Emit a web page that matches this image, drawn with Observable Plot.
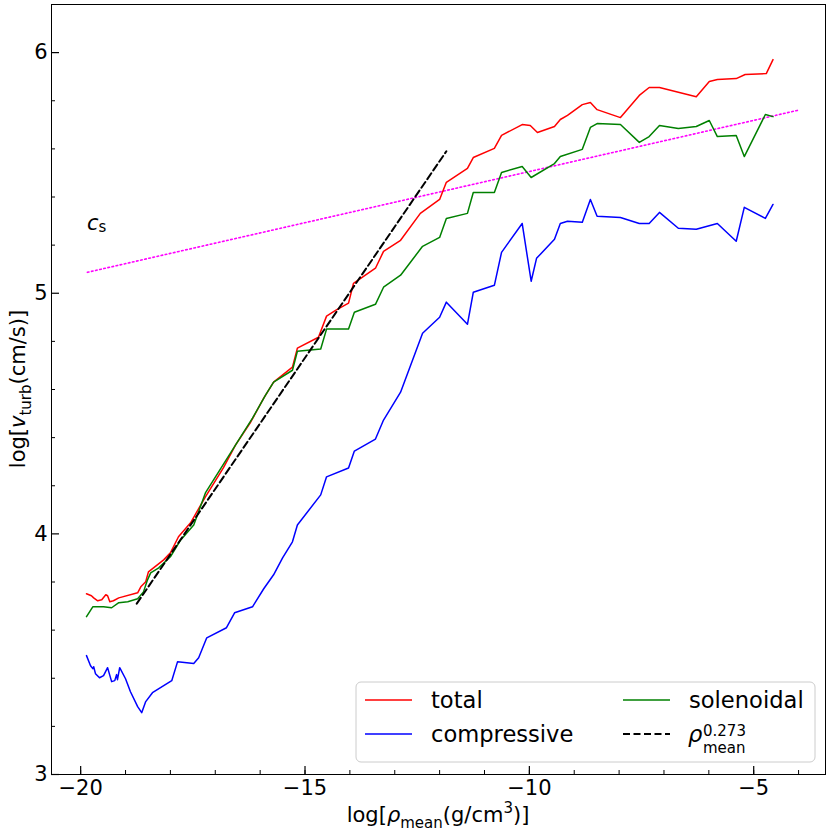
<!DOCTYPE html>
<html><head><meta charset="utf-8">
<script src="https://cdn.jsdelivr.net/npm/d3@7"></script>
<script src="https://cdn.jsdelivr.net/npm/@observablehq/plot@0.6"></script>
<style>body{margin:0;background:white;} #chart{position:relative;width:831px;height:837px;}</style>
</head><body><div id="chart"></div>
<script>
// ---- data ----
const totalX = [-19.87,-19.76,-19.71,-19.62,-19.53,-19.44,-19.40,-19.35,-19.27,-19.15,-18.73,-18.66,-18.55,-18.49,-18.15,-18.00,-17.82,-17.55,-17.22,-16.82,-16.55,-16.21,-15.92,-15.70,-15.28,-15.17,-14.70,-14.52,-14.32,-14.03,-13.92,-13.43,-13.25,-12.87,-12.43,-12.00,-11.85,-11.38,-11.25,-10.78,-10.62,-10.16,-9.98,-9.82,-9.44,-9.31,-9.15,-8.82,-8.64,-8.49,-7.97,-7.55,-7.33,-7.10,-6.28,-5.99,-5.81,-5.39,-5.19,-4.72,-4.57];
const totalY = [3.751,3.743,3.734,3.722,3.726,3.747,3.743,3.718,3.722,3.734,3.755,3.780,3.801,3.842,3.892,3.921,3.988,4.046,4.154,4.274,4.369,4.465,4.564,4.631,4.693,4.772,4.817,4.905,4.929,4.959,5.041,5.104,5.174,5.220,5.332,5.390,5.461,5.519,5.564,5.602,5.656,5.701,5.697,5.668,5.693,5.722,5.739,5.784,5.793,5.763,5.730,5.822,5.855,5.855,5.817,5.880,5.888,5.892,5.909,5.913,5.971];

const solX = [-19.87,-19.73,-19.67,-19.49,-19.31,-19.15,-18.95,-18.73,-18.60,-18.51,-18.44,-18.26,-18.00,-17.77,-17.48,-17.22,-16.55,-16.17,-15.88,-15.70,-15.28,-15.17,-14.65,-14.52,-14.03,-13.90,-13.43,-13.25,-12.87,-12.65,-12.38,-12.00,-11.85,-11.38,-11.25,-10.78,-10.62,-10.16,-9.96,-9.44,-9.31,-8.82,-8.64,-8.49,-7.97,-7.55,-7.33,-7.10,-6.68,-6.28,-5.99,-5.81,-5.39,-5.21,-4.74,-4.57];
const solY = [3.656,3.697,3.697,3.697,3.693,3.714,3.718,3.730,3.759,3.809,3.838,3.859,3.905,3.975,4.037,4.170,4.369,4.481,4.577,4.631,4.680,4.759,4.768,4.851,4.851,4.921,4.954,5.025,5.075,5.129,5.195,5.232,5.311,5.332,5.419,5.419,5.502,5.527,5.481,5.539,5.568,5.598,5.689,5.705,5.701,5.627,5.651,5.697,5.685,5.693,5.718,5.651,5.656,5.568,5.743,5.734];

const compX = [-19.87,-19.78,-19.73,-19.71,-19.67,-19.58,-19.49,-19.40,-19.31,-19.24,-19.20,-19.18,-19.13,-19.00,-18.89,-18.73,-18.64,-18.55,-18.40,-17.97,-17.84,-17.48,-17.37,-17.19,-16.75,-16.57,-16.17,-15.92,-15.70,-15.50,-15.28,-15.17,-14.65,-14.52,-14.03,-13.90,-13.43,-13.25,-12.87,-12.38,-12.00,-11.85,-11.38,-11.25,-10.78,-10.62,-10.16,-9.96,-9.84,-9.44,-9.31,-9.15,-8.82,-8.64,-8.49,-7.97,-7.55,-7.33,-7.10,-6.68,-6.28,-5.81,-5.39,-5.21,-4.74,-4.57];
const compY = [3.494,3.452,3.440,3.448,3.419,3.402,3.411,3.444,3.386,3.390,3.415,3.394,3.444,3.398,3.344,3.282,3.257,3.303,3.340,3.390,3.469,3.461,3.485,3.568,3.610,3.672,3.697,3.772,3.830,3.900,3.967,4.037,4.162,4.237,4.274,4.344,4.394,4.473,4.589,4.834,4.900,4.963,4.871,5.004,5.033,5.170,5.290,5.050,5.145,5.224,5.290,5.299,5.295,5.390,5.320,5.315,5.290,5.290,5.336,5.270,5.266,5.290,5.216,5.357,5.311,5.369];

// power-law fit rho^0.273 (endpoints)
const fitX = [-18.75, -11.85];
const fitY = [3.710, 5.590];
// sound speed c_s (endpoints)
const csX = [-19.85, -4.0];
const csY = [5.087, 5.761];
const csLabel = {x: -19.85, y: 5.26};

const xMajor = [-20, -15, -10, -5];
const xMinor = [-20,-19,-18,-17,-16,-15,-14,-13,-12,-11,-10,-9,-8,-7,-6,-5,-4];
const yMajor = [3, 4, 5, 6];
const yMinor = [3.2,3.4,3.6,3.8,4.2,4.4,4.6,4.8,5.2,5.4,5.6,5.8,6.2];

const series = [
  {name: "total", color: "#ff0000", xs: totalX, ys: totalY},
  {name: "compressive", color: "#0000ff", xs: compX, ys: compY},
  {name: "solenoidal", color: "#008000", xs: solX, ys: solY}
];
const toRows = (xs, ys) => xs.map((x, i) => ({x, y: ys[i]}));
const fmt = d => (d < 0 ? "\u2212" + Math.abs(d) : String(d));

const FONT = "DejaVu Sans";
const chart = Plot.plot({
  width: 831, height: 837,
  marginLeft: 51, marginRight: 6, marginTop: 4, marginBottom: 63,
  x: {domain: [-20.65, -3.4]},
  y: {domain: [3, 6.2]},
  style: {fontFamily: FONT, fontSize: "21px", color: "black", background: "white", overflow: "visible"},
  marks: [
    Plot.axisX({ticks: xMinor, tickSize: -4, tickFormat: () => "", label: null, strokeWidth: 1}),
    Plot.axisY({ticks: yMinor, tickSize: -4, tickFormat: () => "", label: null, strokeWidth: 1}),
    Plot.axisX({ticks: xMajor, tickSize: -8, tickPadding: 14, tickFormat: fmt, label: null, fontSize: 21, strokeWidth: 1.2}),
    Plot.axisY({ticks: yMajor, tickSize: -8, tickPadding: 12, tickFormat: fmt, label: null, fontSize: 21, strokeWidth: 1.2}),
    Plot.line(toRows(csX, csY), {x: "x", y: "y", stroke: "#ff00ff", strokeWidth: 1.6, strokeDasharray: "1.6,2.6"}),
    ...series.map(s => Plot.line(toRows(s.xs, s.ys), {x: "x", y: "y", stroke: s.color, strokeWidth: 1.5})),
    Plot.line(toRows(fitX, fitY), {x: "x", y: "y", stroke: "black", strokeWidth: 2, strokeDasharray: "7,3.5"}),
    Plot.frame({stroke: "black", strokeWidth: 1})
  ]
});
document.getElementById("chart").appendChild(chart);

const svg = d3.select(chart);
const sx = chart.scale("x"), sy = chart.scale("y");
const [fx0, fx1] = sx.range, [fy0, fy1] = sy.range; // fy0 bottom, fy1 top

function richText(g, parts, attrs) {
  const t = g.append("text").attr("font-family", FONT).attr("fill", "black");
  for (const [k, v] of Object.entries(attrs)) t.attr(k, v);
  let shift = 0;
  for (const p of parts) {
    const ts = t.append("tspan").text(p.t);
    const target = p.sub ? 6 : p.sup ? -9 : 0;
    ts.attr("dy", target - shift); shift = target;
    if (p.sub || p.sup) ts.attr("font-size", 15);
    if (p.it) ts.attr("font-style", "italic");
  }
  return t;
}

// x label
richText(svg, [{t: "log["}, {t: "\u03c1", it: true}, {t: "mean", sub: true}, {t: "(g/cm"}, {t: "3", sup: true}, {t: ")]"}],
  {x: (fx0 + fx1) / 2, y: 822, "text-anchor": "middle", "font-size": 21});
// y label
richText(svg.append("g").attr("transform", `translate(25,${(fy0 + fy1) / 2}) rotate(-90)`),
  [{t: "log["}, {t: "v", it: true}, {t: "turb", sub: true}, {t: "(cm/s)]"}],
  {x: 0, y: 0, "text-anchor": "middle", "font-size": 21});
// c_s label
const cs = svg.append("text").attr("font-family", FONT).attr("font-size", 21).attr("text-anchor", "start")
  .attr("x", sx.apply(csLabel.x)).attr("y", sy.apply(csLabel.y));
cs.append("tspan").attr("font-style", "italic").text("c");
cs.append("tspan").attr("font-size", 15).attr("dy", 2).text("s");

// legend
const LW = 459, LH = 80;
const lg = svg.append("g").attr("transform", `translate(${fx1 - 10 - LW},${fy0 - 12 - LH})`).attr("text-anchor", "start");
lg.append("rect").attr("width", LW).attr("height", LH).attr("rx", 5)
  .attr("fill", "white").attr("fill-opacity", 0.8).attr("stroke", "#cccccc").attr("stroke-width", 1);
const items = [
  {col: 0, row: 0, color: "#ff0000", label: "total"},
  {col: 0, row: 1, color: "#0000ff", label: "compressive"},
  {col: 1, row: 0, color: "#008000", label: "solenoidal"},
  {col: 1, row: 1, color: "black", dash: "7,3.5", label: null}
];
for (const it of items) {
  const ox = it.col ? 267 : 9, oy = it.row ? 52 : 18;
  lg.append("line").attr("x1", ox).attr("x2", ox + 47).attr("y1", oy).attr("y2", oy)
    .attr("stroke", it.color).attr("stroke-width", it.dash ? 2 : 1.5).attr("stroke-dasharray", it.dash || null);
  if (it.label) {
    lg.append("text").attr("font-family", FONT).attr("font-size", 22.6).attr("x", ox + 66).attr("y", oy + 8).text(it.label);
  } else {
    lg.append("text").attr("font-family", FONT).attr("font-size", 22.6).attr("font-style", "italic").attr("x", ox + 65).attr("y", oy + 8).text("\u03c1");
    lg.append("text").attr("font-family", FONT).attr("font-size", 15).attr("x", ox + 80).attr("y", oy + 2).text("0.273");
    lg.append("text").attr("font-family", FONT).attr("font-size", 15).attr("x", ox + 80).attr("y", oy + 19).text("mean");
  }
}
</script></body></html>
